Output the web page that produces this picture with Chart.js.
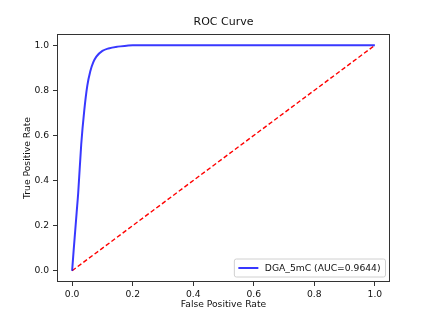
<!DOCTYPE html>
<html>
<head>
<meta charset="utf-8">
<script src="https://cdn.jsdelivr.net/npm/chart.js@4.4.1/dist/chart.umd.min.js"></script>
<style>
  html, body { margin: 0; padding: 0; background: #fff; }
  canvas { display: block; }
</style>
</head>
<body>
<canvas id="rocChart" width="425" height="326"></canvas>
<script>
const fpr = [0, 0.005, 0.01, 0.015, 0.02, 0.03, 0.04, 0.05, 0.06, 0.07, 0.08, 0.1, 0.12, 0.15, 0.18, 0.2, 0.25, 1.0];
const tpr = [0, 0.09, 0.175, 0.26, 0.345, 0.56, 0.71, 0.82, 0.885, 0.925, 0.95, 0.975, 0.986, 0.994, 0.998, 1.0, 1.0, 1.0];
const chanceX = [0, 1];
const chanceY = [0, 1];
const tickValues = [0, 0.2, 0.4, 0.6, 0.8, 1.0];
const tickLabels = ["0.0", "0.2", "0.4", "0.6", "0.8", "1.0"];
const seriesLabel = "DGA_5mC (AUC=0.9644)";

const FONT = "'DejaVu Sans', sans-serif";
const TEXT = "#111";
const ctx = document.getElementById("rocChart");

// frame, title and legend drawn like matplotlib
const mplDecor = {
  id: "mplDecor",
  afterDraw(chart) {
    const c = chart.ctx;
    const a = chart.chartArea;
    c.save();
    c.strokeStyle = "#333";
    c.lineWidth = 1;
    c.strokeRect(Math.round(a.left) + 0.5, Math.round(a.top) + 0.5,
      Math.round(a.right - a.left) - 1, Math.round(a.bottom - a.top) - 1);

    c.fillStyle = TEXT;
    c.font = "11px " + FONT;
    c.textAlign = "center";
    c.textBaseline = "middle";
    c.fillText("ROC Curve", (a.left + a.right) / 2, 22);

    // legend
    const ds = chart.data.datasets[0];
    c.font = "9.2px " + FONT;
    const tw = c.measureText(ds.label).width;
    const right = a.right - 4.5;
    const bottom = a.bottom - 5;
    const h = 18;
    const w = 4 + 20 + 6.5 + tw + 5;
    const left = right - w;
    const top = bottom - h;
    c.beginPath();
    c.roundRect(left, top, w, h, 2);
    c.fillStyle = "rgba(255,255,255,0.8)";
    c.fill();
    c.strokeStyle = "#d0d0d0";
    c.stroke();
    const my = top + h / 2;
    c.beginPath();
    c.moveTo(left + 4, my);
    c.lineTo(left + 24, my);
    c.strokeStyle = ds.borderColor;
    c.lineWidth = 2;
    c.stroke();
    c.fillStyle = TEXT;
    c.textAlign = "left";
    c.fillText(ds.label, left + 30.5, my + 0.5);
    c.restore();
  },
};

const axisCommon = {
  type: "linear",
  min: -0.05,
  max: 1.05,
  afterBuildTicks: (scale) => {
    scale.ticks = tickValues.map((v) => ({ value: v }));
  },
  grid: { display: true, drawOnChartArea: false, drawTicks: true, tickLength: 4, color: "#333" },
  border: { display: false },
};

new Chart(ctx, {
  type: "scatter",
  data: {
    datasets: [
      {
        label: seriesLabel,
        data: fpr.map((x, i) => ({ x: x, y: tpr[i] })),
        showLine: true,
        borderColor: "rgba(0,0,255,0.78)",
        borderWidth: 2,
        pointRadius: 0,
        cubicInterpolationMode: "monotone",
      },
      {
        label: "chance",
        data: chanceX.map((x, i) => ({ x: x, y: chanceY[i] })),
        showLine: true,
        borderColor: "#ff0000",
        borderWidth: 1.4,
        borderDash: [4.5, 2.5],
        pointRadius: 0,
      },
    ],
  },
  options: {
    responsive: false,
    animation: false,
    layout: { padding: { left: 18, right: 35, top: 34, bottom: 12 } },
    scales: {
      x: {
        ...axisCommon,
        afterFit: (scale) => { scale.height = 32; },
        ticks: {
          color: TEXT,
          padding: 3,
          maxRotation: 0,
          font: { family: FONT, size: 9.2 },
          callback: (value, index) => tickLabels[index],
        },
        title: { display: true, text: "False Positive Rate", color: TEXT, font: { family: FONT, size: 9.2 } },
      },
      y: {
        ...axisCommon,
        afterFit: (scale) => { scale.width = 39; },
        ticks: {
          color: TEXT,
          padding: 4,
          font: { family: FONT, size: 9.2 },
          callback: (value, index) => tickLabels[index],
        },
        title: { display: true, text: "True Positive Rate", color: TEXT, font: { family: FONT, size: 9.2 } },
      },
    },
    plugins: {
      legend: { display: false },
      tooltip: { enabled: false },
    },
  },
  plugins: [mplDecor],
});
</script>
</body>
</html>
